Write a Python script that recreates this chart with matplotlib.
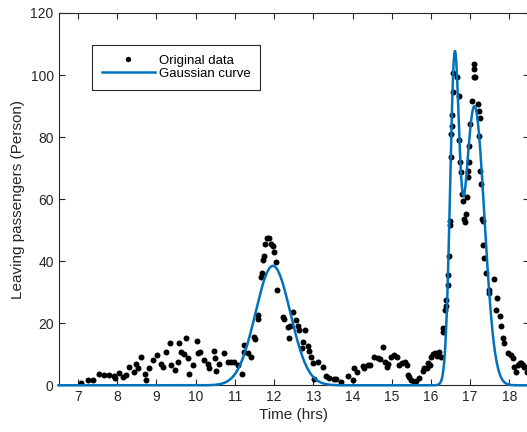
import numpy as np
import matplotlib.pyplot as plt

plt.rcParams['font.family'] = ['Liberation Sans', 'DejaVu Sans']

# observed leaving passengers (time in hours, count)
t_obs = [7.08, 7.25, 7.38, 7.53, 7.67, 7.80, 7.91, 7.95, 8.05, 8.14, 8.21, 8.31, 8.42,
         8.48, 8.54, 8.61, 8.71, 8.73, 8.82, 8.91, 9.01, 9.12, 9.16, 9.24, 9.35, 9.37,
         9.46, 9.54, 9.58, 9.63, 9.71, 9.74, 9.80, 9.84, 9.94, 10.04, 10.05, 10.12,
         10.22, 10.31, 10.35, 10.46, 10.48, 10.52, 10.60, 10.73, 10.82, 10.90, 10.97,
         11.08, 11.18, 11.23, 11.23, 11.34, 11.41, 11.49, 11.52, 11.59, 11.59, 11.67,
         11.69, 11.72, 11.74, 11.77, 11.82, 11.87, 11.92, 11.97, 12.00, 12.05, 12.08,
         12.23, 12.26, 12.36, 12.38, 12.41, 12.48, 12.56, 12.61, 12.64, 12.71, 12.74,
         12.79, 12.87, 12.89, 12.94, 13.00, 13.02, 13.12, 13.25, 13.33, 13.40, 13.53,
         13.58, 13.71, 13.89, 14.02, 14.04, 14.12, 14.27, 14.30, 14.40, 14.45, 14.55,
         14.65, 14.70, 14.78, 14.83, 14.88, 14.91, 14.98, 15.06, 15.14, 15.19, 15.27,
         15.34, 15.39, 15.42, 15.44, 15.49, 15.57, 15.62, 15.70, 15.80, 15.83, 15.90,
         15.93, 15.98, 16.01, 16.06, 16.11, 16.16, 16.21, 16.26, 16.31, 16.31, 16.35,
         16.39, 16.39, 16.44, 16.44, 16.46, 16.49, 16.49, 16.50, 16.52, 16.54, 16.54,
         16.57, 16.57, 16.67, 16.72, 16.72, 16.74, 16.77, 16.80, 16.82, 16.85, 16.87,
         16.90, 16.92, 16.95, 16.95, 16.97, 16.97, 17.00, 17.05, 17.10, 17.10, 17.10,
         17.13, 17.20, 17.23, 17.23, 17.26, 17.26, 17.28, 17.31, 17.33, 17.33, 17.36,
         17.41, 17.49, 17.49, 17.61, 17.66, 17.69, 17.77, 17.79, 17.84, 17.87, 17.97,
         18.05, 18.10, 18.12, 18.17, 18.22, 18.28, 18.30, 18.35, 18.38, 18.45]
n_obs = [0.9, 1.8, 1.8, 3.5, 3.3, 3.3, 3.0, 2.2, 4.1, 2.7, 3.3, 5.9, 4.3,
         7.0, 5.7, 9.0, 3.8, 1.8, 5.7, 8.1, 9.7, 7.0, 5.9, 10.8, 13.7, 6.5,
         4.9, 7.6, 13.5, 10.8, 10.1, 15.1, 8.7, 3.5, 6.5, 14.3, 10.3, 10.6,
         8.3, 7.0, 5.7, 11.1, 8.7, 4.6, 7.0, 10.3, 7.6, 7.6, 7.6,
         6.5, 3.8, 13.0, 10.8, 10.3, 9.0, 15.6, 15.0, 22.7, 21.4, 35.0,
         36.3, 40.5, 41.8, 45.7, 47.4, 47.4, 45.7, 44.8, 43.1, 39.6, 30.8,
         22.0, 21.4, 18.8, 15.2, 19.0, 23.7, 21.0, 19.0, 17.8, 12.0, 14.0,
         17.8, 12.6, 11.0, 9.1, 7.1, 1.9, 7.5, 5.9, 2.9, 2.3, 1.9,
         1.9, 1.0, 2.9, 1.6, 5.5, 4.3, 6.2, 5.5, 6.5, 6.5, 9.1,
         8.8, 8.4, 12.3, 7.5, 5.9, 6.8, 9.1, 9.7, 9.1, 6.5, 7.1,
         7.5, 6.5, 3.2, 2.6, 1.6, 1.0, 1.3, 2.2, 4.5, 5.5, 5.5,
         7.1, 6.5, 9.1, 10.1, 10.4, 9.4, 10.7, 9.1, 17.2, 18.5, 24.3,
         25.4, 27.5, 32.4, 35.6, 41.6, 51.6, 52.9, 73.6, 81.0, 83.7, 87.2,
         94.4, 100.5, 99.3, 93.4, 79.1, 72.0, 68.8, 61.6, 59.4, 53.5, 52.5,
         55.1, 60.6, 67.0, 69.0, 72.0, 77.2, 84.3, 91.5, 103.5, 101.9, 99.3,
         99.3, 90.8, 88.5, 80.4, 86.0, 69.0, 64.9, 53.5, 52.9, 45.1, 40.9,
         36.3, 30.8, 29.8, 34.4, 24.3, 28.2, 22.4, 19.1, 15.2, 13.6, 10.4,
         9.7, 8.8, 5.9, 4.3, 6.5, 7.1, 7.1, 6.5, 5.9, 4.3]

# fitted gaussian terms: amplitude, centre, width
amp = [38.5, 95.0, 90.0]
centre = [11.97, 16.60, 17.11]
width = [0.63, 0.16, 0.36]

t_fit = np.linspace(6.5, 18.5, 1500)
n_fit = np.zeros_like(t_fit)
for a, b, c in zip(amp, centre, width):
    n_fit += a * np.exp(-((t_fit - b) / c) ** 2)

dark = '#262626'
fig = plt.figure(figsize=(5.27, 4.32), dpi=100)
ax = fig.add_axes([58.5 / 527, 46.7 / 432, 470.4 / 527, 372.3 / 432])

ax.plot(t_obs, n_obs, 'o', color='k', ms=4.3, mec='none', label='Original data')
ax.plot(t_fit, n_fit, color='#0072BD', lw=1.8, label='Gaussian curve',
        zorder=3, clip_on=False)

ax.set_xlim(6.5, 18.5)
ax.set_ylim(0, 120)
ax.set_xticks(range(7, 19))
ax.set_yticks(range(0, 121, 20))
ax.tick_params(direction='in', length=4.5, width=0.8, colors=dark,
               labelsize=10, top=True, right=True, labeltop=False, labelright=False)
for sp in ax.spines.values():
    sp.set_color(dark)
    sp.set_linewidth(0.8)

ax.set_xlabel('Time (hrs)', fontsize=11, color=dark, labelpad=3)
ax.set_ylabel('Leaving passengers (Person)', fontsize=11, color=dark, labelpad=4)

leg = ax.legend(loc='upper left', bbox_to_anchor=(0.071, 0.915), borderaxespad=0,
                fancybox=False, framealpha=1, edgecolor=dark, fontsize=9.5,
                handlelength=4.0, handletextpad=0.3, borderpad=0.75,
                labelspacing=0.05, markerscale=0.9)
leg.get_frame().set_linewidth(0.8)

fig.savefig('out.png', dpi=100)
